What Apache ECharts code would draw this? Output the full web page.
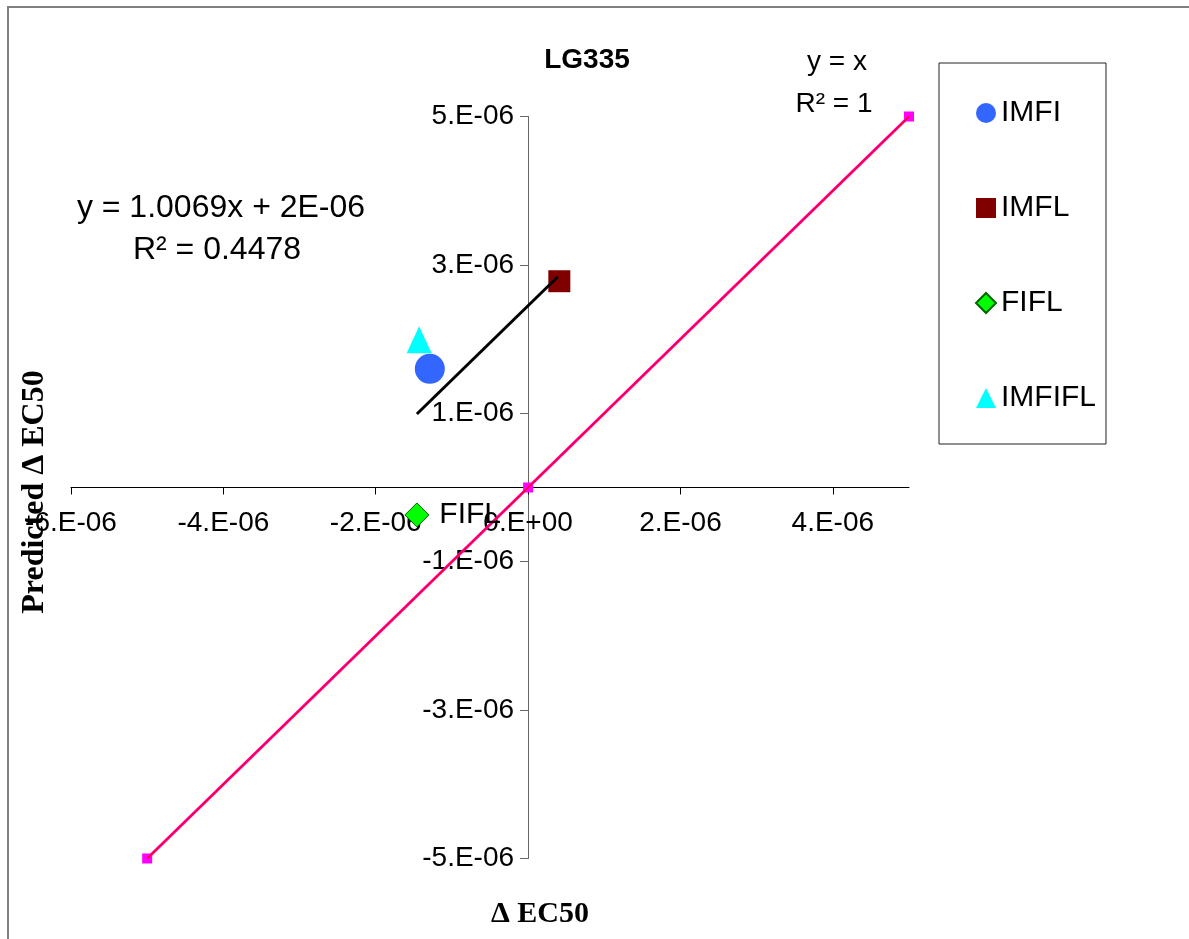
<!DOCTYPE html>
<html>
<head>
<meta charset="utf-8">
<script src="https://cdn.jsdelivr.net/npm/echarts@6/dist/echarts.min.js"></script>
<style>
html,body{margin:0;padding:0;background:#fff;}
#chart{width:1189px;height:939px;}
</style>
</head>
<body>
<div id="chart"></div>
<script>
// ---- data ----
const seriesNames = ['IMFI', 'IMFL', 'FIFL', 'IMFIFL'];
const imfi = [[-1.29e-6, 1.60e-6]];
const imfl = [[0.41e-6, 2.78e-6]];
const fifl = [[-1.46e-6, -0.37e-6]];
const imfifl = [[-1.43e-6, 1.99e-6]];
const trendFit = [[-1.46e-6, 0.99e-6], [0.39e-6, 2.84e-6]];
const identityLine = [[-5e-6, -5e-6], [0, 0], [5e-6, 5e-6]];
const xTicks = [-6e-6, -4e-6, -2e-6, 0, 2e-6, 4e-6];
const yTicks = [-5e-6, -3e-6, -1e-6, 1e-6, 3e-6, 5e-6];
const xMin = -6e-6, xMax = 5e-6, yMin = -5e-6, yMax = 5e-6;

function sci(v) {
  if (Math.abs(v) < 1e-15) return '0.E+00';
  const e = Math.floor(Math.log10(Math.abs(v)) + 1e-9);
  const m = Math.round(v / Math.pow(10, e));
  return m + '.E' + (e < 0 ? '-' : '+') + String(Math.abs(e)).padStart(2, '0');
}

const sans = '"Liberation Sans", Arial, sans-serif';
const serif = '"Liberation Serif", "Times New Roman", serif';

// grid box
const gLeft = 71, gRight = 280, gTop = 116.5, gBottom = 80.5;
const W = 1189, H = 939;
const gW = W - gLeft - gRight, gH = H - gTop - gBottom;
// shift axes so they cross at zero (whole axis incl. labels)
const xOffset = -(gH * (0 - yMin) / (yMax - yMin));
const yOffset = -(gW * (0 - xMin) / (xMax - xMin));

const chart = echarts.init(document.getElementById('chart'), null, {renderer: 'canvas'});
chart.setOption({
  backgroundColor: '#fff',
  animation: false,
  grid: {left: gLeft, right: gRight, top: gTop, bottom: gBottom, containLabel: false, outerBoundsMode: 'none'},
  xAxis: {
    type: 'value', min: xMin, max: xMax, position: 'bottom', offset: xOffset,
    axisLine: {onZero: false, lineStyle: {color: '#000', width: 1}},
    axisTick: {show: true, length: 7, lineStyle: {color: '#000'}, customValues: xTicks},
    axisLabel: {customValues: xTicks, formatter: sci, fontFamily: sans, fontSize: 28, color: '#000', margin: 22, hideOverlap: false},
    splitLine: {show: false}
  },
  yAxis: {
    type: 'value', min: yMin, max: yMax, position: 'left', offset: yOffset,
    axisLine: {onZero: false, lineStyle: {color: '#666', width: 1}},
    axisTick: {show: true, length: 8, lineStyle: {color: '#666'}, customValues: yTicks},
    axisLabel: {customValues: yTicks, formatter: sci, fontFamily: sans, fontSize: 28, color: '#000', margin: 14, hideOverlap: false},
    splitLine: {show: false}
  },
  legend: {
    orient: 'vertical', left: 939, top: 63,
    data: seriesNames,
    itemWidth: 20, itemHeight: 20, itemGap: 59,
    padding: [32, 10, 28, 36],
    borderColor: '#222', borderWidth: 1,
    textStyle: {fontFamily: sans, fontSize: 30, color: '#000', lineHeight: 36}
  },
  series: [
    {name: 'y=x', type: 'line', data: identityLine, symbol: 'rect', symbolSize: 10,
     itemStyle: {color: '#ff00ff'}, lineStyle: {color: '#ff00ff', width: 3}, z: 2, silent: true},
    {name: 'y=x fit', type: 'line', data: [identityLine[0], identityLine[2]], symbol: 'none',
     lineStyle: {color: '#ff0000', width: 1.5}, z: 3, silent: true},
    {name: 'IMFI', type: 'scatter', data: imfi, symbol: 'circle', symbolSize: 30,
     itemStyle: {color: '#3366ff', opacity: 1}, z: 4},
    {name: 'IMFL', type: 'scatter', data: imfl, symbol: 'rect', symbolSize: 22,
     itemStyle: {color: '#800000', opacity: 1}, z: 4},
    {name: 'FIFL', type: 'scatter', data: fifl, symbol: 'diamond', symbolSize: 24,
     itemStyle: {color: '#00ff00', borderColor: '#006400', borderWidth: 1, opacity: 1}, z: 4,
     label: {show: true, position: 'right', distance: 10, formatter: 'FIFL', fontFamily: sans, fontSize: 30, color: '#000'}},
    {name: 'IMFIFL', type: 'scatter', data: imfifl, symbol: 'triangle', symbolSize: [25, 27],
     itemStyle: {color: '#00ffff', opacity: 1}, z: 4},
    {name: 'fit', type: 'line', data: trendFit, symbol: 'none',
     lineStyle: {color: '#000', width: 3}, z: 6, silent: true}
  ],
  graphic: [
    {type: 'rect', shape: {x: 8, y: 7, width: 1300, height: 1100}, style: {fill: 'none', stroke: '#808080', lineWidth: 2}, silent: true},
    {type: 'text', x: 587, y: 60, style: {text: 'LG335', font: 'bold 28px ' + sans, fill: '#000', textAlign: 'center', textVerticalAlign: 'middle'}},
    {type: 'text', x: 837, y: 62, style: {text: 'y = x', font: '28px ' + sans, fill: '#000', textAlign: 'center', textVerticalAlign: 'middle'}},
    {type: 'text', x: 834, y: 104, style: {text: 'R² = 1', font: '28px ' + sans, fill: '#000', textAlign: 'center', textVerticalAlign: 'middle'}},
    {type: 'text', x: 221, y: 208, style: {text: 'y = 1.0069x + 2E-06', font: '32px ' + sans, fill: '#000', textAlign: 'center', textVerticalAlign: 'middle'}},
    {type: 'text', x: 217, y: 250, style: {text: 'R² = 0.4478', font: '32px ' + sans, fill: '#000', textAlign: 'center', textVerticalAlign: 'middle'}},
    {type: 'text', x: 540, y: 914, style: {text: 'Δ EC50', font: 'bold 30px ' + serif, fill: '#000', textAlign: 'center', textVerticalAlign: 'middle'}},
    {type: 'text', x: 35, y: 492, rotation: Math.PI / 2, style: {text: 'Predicted Δ EC50', font: 'bold 32px ' + serif, fill: '#000', textAlign: 'center', textVerticalAlign: 'middle'}}
  ]
});
</script>
</body>
</html>
